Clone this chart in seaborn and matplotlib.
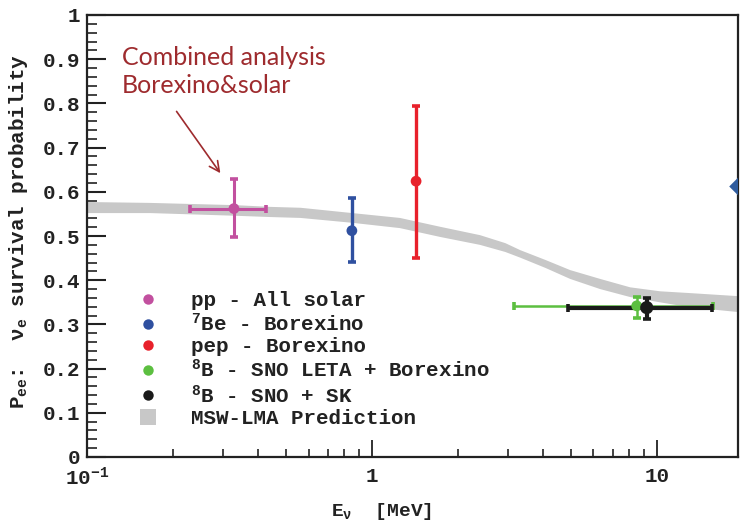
import numpy as np
import pandas as pd
import matplotlib
matplotlib.use("Agg")
import matplotlib.pyplot as plt
import seaborn as sns
from matplotlib.lines import Line2D
from matplotlib.ticker import MultipleLocator, FixedLocator, LogLocator, NullFormatter

# ---------------- data ----------------
series_labels = ["pp - All solar",
                 r"$^{\mathbf{7}}$Be - Borexino",
                 "pep - Borexino",
                 r"$^{\mathbf{8}}$B - SNO LETA + Borexino",
                 r"$^{\mathbf{8}}$B - SNO + SK"]
energy = [0.328, 0.851, 1.43, 8.51, 9.23]          # MeV
prob = [0.562, 0.512, 0.624, 0.342, 0.338]
energy_lo = [0.230, 0.851, 1.43, 3.15, 4.88]
energy_hi = [0.424, 0.851, 1.43, 15.8, 15.7]
prob_lo = [0.497, 0.442, 0.451, 0.315, 0.313]
prob_hi = [0.630, 0.585, 0.794, 0.363, 0.360]
colors = ["#C2509F", "#2F50A0", "#E8212B", "#5CBF40", "#1A1A1A"]

band_energy = [0.100, 0.166, 0.328, 0.44, 0.56, 0.85, 1.25, 1.73, 2.39, 2.93,
               3.31, 4.05, 4.95, 6.31, 8.04, 10.25, 13.0, 19.3]
band_lo = [0.553, 0.553, 0.547, 0.544, 0.542, 0.531, 0.519, 0.499, 0.481, 0.465,
           0.452, 0.429, 0.404, 0.381, 0.363, 0.351, 0.340, 0.329]
band_hi = [0.578, 0.576, 0.571, 0.567, 0.565, 0.553, 0.542, 0.522, 0.503, 0.485,
           0.469, 0.447, 0.424, 0.404, 0.385, 0.376, 0.372, 0.365]

edge_energy = [19.3]
edge_prob = [0.612]

y_ticks = [0.0, 0.1, 0.2, 0.3, 0.4, 0.5, 0.6, 0.7, 0.8, 0.9, 1.0]
y_tick_labels = ["0", "0.1", "0.2", "0.3", "0.4", "0.5", "0.6", "0.7", "0.8", "0.9", "1"]
x_ticks = [0.1, 1, 10]
x_tick_labels = [r"10$^{\mathbf{-1}}$", "1", "10"]

df = pd.DataFrame({"label": series_labels, "E": energy, "P": prob})

# ---------------- style ----------------
sns.set_theme(style="ticks")
mono = "Liberation Mono"
plt.rcParams["font.family"] = [mono, "DejaVu Sans"]
plt.rcParams["mathtext.fontset"] = "custom"
plt.rcParams["mathtext.rm"] = mono
plt.rcParams["mathtext.it"] = mono + ":italic"
plt.rcParams["mathtext.bf"] = mono + ":bold"

fig = plt.figure(figsize=(7.4, 5.22), dpi=100)
ax = fig.add_axes([87 / 740, 1 - 457 / 522, (738 - 87) / 740, (457 - 15) / 522])

# band
ax.fill_between(band_energy, band_lo, band_hi, color="#C8C8C8", lw=0, zorder=1)

# error bars
lws = [2.2, 2.4, 2.4, 1.8, 3.0]
for i in range(len(energy)):
    xerr = None
    if energy_hi[i] != energy_lo[i]:
        xerr = [[energy[i] - energy_lo[i]], [energy_hi[i] - energy[i]]]
    yerr = [[prob[i] - prob_lo[i]], [prob_hi[i] - prob[i]]]
    ax.errorbar([energy[i]], [prob[i]], xerr=xerr, yerr=yerr, fmt="none",
                ecolor=colors[i], elinewidth=lws[i], capsize=2.6, capthick=2.6,
                zorder=3 + i * 0.1)

sizes = [60, 60, 60, 60, 90]
sns.scatterplot(data=df, x="E", y="P", hue="label", palette=colors,
                size="label", sizes=dict(zip(series_labels, sizes)),
                edgecolor="none", legend=False, ax=ax, zorder=5)

ax.scatter(edge_energy, edge_prob, marker="D", s=80, color="#2F5C9E",
           edgecolor="none", zorder=6, clip_on=True)

ax.set_xscale("log")
ax.set_xlim(0.1, 19.3)
ax.set_ylim(0, 1)

ax.xaxis.set_major_locator(FixedLocator(x_ticks))
ax.set_xticklabels(x_tick_labels)
ax.xaxis.set_minor_locator(LogLocator(base=10, subs=np.arange(2, 10)))
ax.xaxis.set_minor_formatter(NullFormatter())
ax.set_yticks(y_ticks)
ax.set_yticklabels(y_tick_labels)
ax.yaxis.set_minor_locator(MultipleLocator(0.02))

for lab in ax.get_xticklabels() + ax.get_yticklabels():
    lab.set_fontsize(15)
    lab.set_fontweight("bold")
    lab.set_color("#222222")

ax.tick_params(axis="y", which="major", direction="in", length=14, width=1.5,
               color="#222222", pad=5, right=False)
ax.tick_params(axis="y", which="minor", direction="in", length=7.5, width=1.2,
               color="#222222", right=False)
ax.tick_params(axis="x", which="major", direction="in", length=12, width=1.3,
               color="#222222", pad=7, top=False)
ax.tick_params(axis="x", which="minor", direction="in", length=6, width=1.2,
               color="#222222", top=False)
for s in ax.spines.values():
    s.set_linewidth(1.6)
    s.set_color("#222222")

ax.set_xlabel(r"E$_{\mathbf{\nu}}$  [MeV]", fontsize=14, fontweight="bold", color="#222222")
ax.xaxis.set_label_coords(0.453, -0.1)
ax.set_ylabel(r"P$_{\mathbf{ee}}$:  ν$_{\mathbf{e}}$ survival probability",
              fontsize=15, fontweight="bold", color="#222222")
ax.yaxis.set_label_coords(-0.088, 0.51)

# legend
handles = [Line2D([], [], marker="o", ls="none", markersize=7.5, color=c,
                  markeredgewidth=0) for c in colors]
handles.append(Line2D([], [], marker="s", ls="none", markersize=11, color="#C8C8C8",
                      markeredgewidth=0))
leg_labels = series_labels + ["MSW-LMA Prediction"]
leg = ax.legend(handles, leg_labels, loc="upper left", bbox_to_anchor=(0.078, 0.376),
                frameon=False, borderpad=0, borderaxespad=0, handlelength=1.0,
                handletextpad=1.55, labelspacing=0.12,
                prop={"family": mono, "size": 15, "weight": "bold"})
for t in leg.get_texts():
    t.set_color("#222222")

# annotation
ann_color = "#9E2B2E"
ax.text(0.1327, 0.872, "Combined analysis\nBorexino&solar", ha="left", va="center",
        fontsize=18, color=ann_color, family=["Lato", "DejaVu Sans"], linespacing=1.25)
ax.annotate("", xy=(0.2977, 0.637), xytext=(0.2036, 0.787),
            arrowprops=dict(arrowstyle="->", color=ann_color, lw=1.2,
                            mutation_scale=18))

fig.savefig("out.png", dpi=100)
